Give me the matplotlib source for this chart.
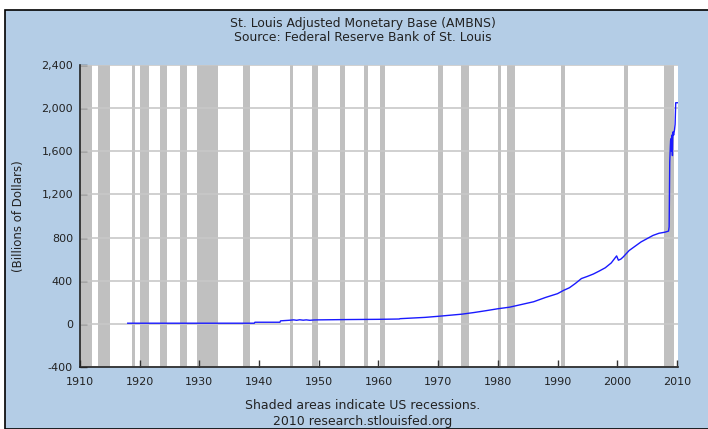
import matplotlib
matplotlib.use('Agg')
import matplotlib.pyplot as plt
from matplotlib.patches import Rectangle
from matplotlib.ticker import FuncFormatter

# St. Louis Adjusted Monetary Base, billions of dollars
years = [1918.0, 1939.2, 1939.3, 1943.5, 1943.6, 1945.0, 1945.8, 1946.3, 1946.8, 1947.4,
         1947.9, 1948.5, 1949.2, 1950.0, 1955.0, 1960.0, 1963.5, 1963.6, 1967.8, 1970.0,
         1972.0, 1974.0, 1976.0, 1978.0, 1980.0, 1982.0, 1984.0, 1986.0, 1988.0, 1990.0,
         1991.0, 1992.0, 1993.0, 1994.0, 1995.0, 1996.0, 1997.0, 1998.0, 1999.0, 1999.9,
         2000.2, 2000.6, 2001.0, 2001.5, 2002.0, 2003.0, 2004.0, 2005.0, 2006.0, 2007.0,
         2008.0, 2008.6, 2008.7, 2008.75, 2008.8, 2008.9, 2008.95, 2009.0, 2009.05, 2009.1,
         2009.15, 2009.2, 2009.25, 2009.3, 2009.35, 2009.45, 2009.6, 2009.7, 2009.8, 2010.1]
base = [6, 6, 15, 15, 28, 33, 37, 33, 38, 34,
        37, 33, 36, 37, 40, 42, 45, 48, 60, 70,
        80, 90, 105, 122, 140, 155, 180, 205, 245, 280,
        310, 335, 375, 420, 440, 462, 490, 520, 565, 630,
        590, 600, 620, 650, 680, 720, 760, 790, 820, 840,
        850, 860, 900, 1200, 1500, 1650, 1700, 1620, 1720, 1600,
        1750, 1680, 1560, 1720, 1780, 1750, 1800, 1850, 2050, 2050]

# NBER recessions (start, end)
rec_start = [1910.0, 1913.0, 1918.67, 1920.0, 1923.37, 1926.8, 1929.6, 1937.37, 1945.1, 1948.85,
             1953.5, 1957.6, 1960.3, 1969.9, 1973.85, 1980.0, 1981.5, 1990.5, 2001.2, 2007.9]
rec_end = [1912.0, 1914.95, 1919.2, 1921.5, 1924.5, 1927.85, 1933.2, 1938.45, 1945.75, 1949.8,
           1954.37, 1958.3, 1961.1, 1970.85, 1975.2, 1980.5, 1982.85, 1991.2, 2001.85, 2009.45]

bg = '#b4cde6'
fig = plt.figure(figsize=(7.08, 4.29), dpi=100, facecolor='white')
fig.patches.append(Rectangle((5 / 708, 0), 1.0, 1 - 9.5 / 429, transform=fig.transFigure,
                             facecolor=bg, edgecolor='black', linewidth=1.2, zorder=-5))

ax = fig.add_axes([80 / 708, (429 - 367) / 429, 597.5 / 708, 302 / 429])
ax.set_zorder(2)
ax.set_facecolor('white')

for s, e in zip(rec_start, rec_end):
    ax.axvspan(s, e, color='#c0c0c0', lw=0, zorder=1)

for v in range(-400, 2401, 400):
    ax.axhline(v, color='#c8c8c8', lw=1.2, zorder=2)

ax.plot(years, base, color='#1a1aff', lw=1.0, zorder=3)

ax.set_xlim(1910, 2010.1)
ax.set_ylim(-400, 2400)
ax.set_xticks(range(1910, 2011, 10))
ax.set_yticks(range(-400, 2401, 400))
ax.yaxis.set_major_formatter(FuncFormatter(lambda v, p: f'{v:,.0f}'))
ax.tick_params(axis='both', direction='in', length=5, width=1, color='#333333',
               labelsize=8, labelcolor='#222222')
ax.tick_params(axis='x', pad=7)
ax.tick_params(axis='y', pad=5)
for side in ['top', 'right']:
    ax.spines[side].set_visible(False)
for side in ['left', 'bottom']:
    ax.spines[side].set_color('#222222')
    ax.spines[side].set_linewidth(1.2)
    ax.spines[side].set_zorder(4)

ax.set_ylabel('(Billions of Dollars)', fontsize=8.5, color='#222222')
ax.yaxis.set_label_coords(-55 / 597.5, 0.5)

fig.text(363 / 708, 1 - 23.3 / 429, 'St. Louis Adjusted Monetary Base (AMBNS)',
         ha='center', va='center', fontsize=8.9, color='#222222')
fig.text(363 / 708, 1 - 37.7 / 429, 'Source: Federal Reserve Bank of St. Louis',
         ha='center', va='center', fontsize=8.9, color='#222222')
fig.text(363 / 708, 1 - 405.5 / 429, 'Shaded areas indicate US recessions.',
         ha='center', va='center', fontsize=9, color='#222222')
fig.text(363 / 708, 1 - 421 / 429, '2010 research.stlouisfed.org',
         ha='center', va='center', fontsize=9, color='#222222')

fig.savefig('out.png', dpi=100, facecolor='white')
